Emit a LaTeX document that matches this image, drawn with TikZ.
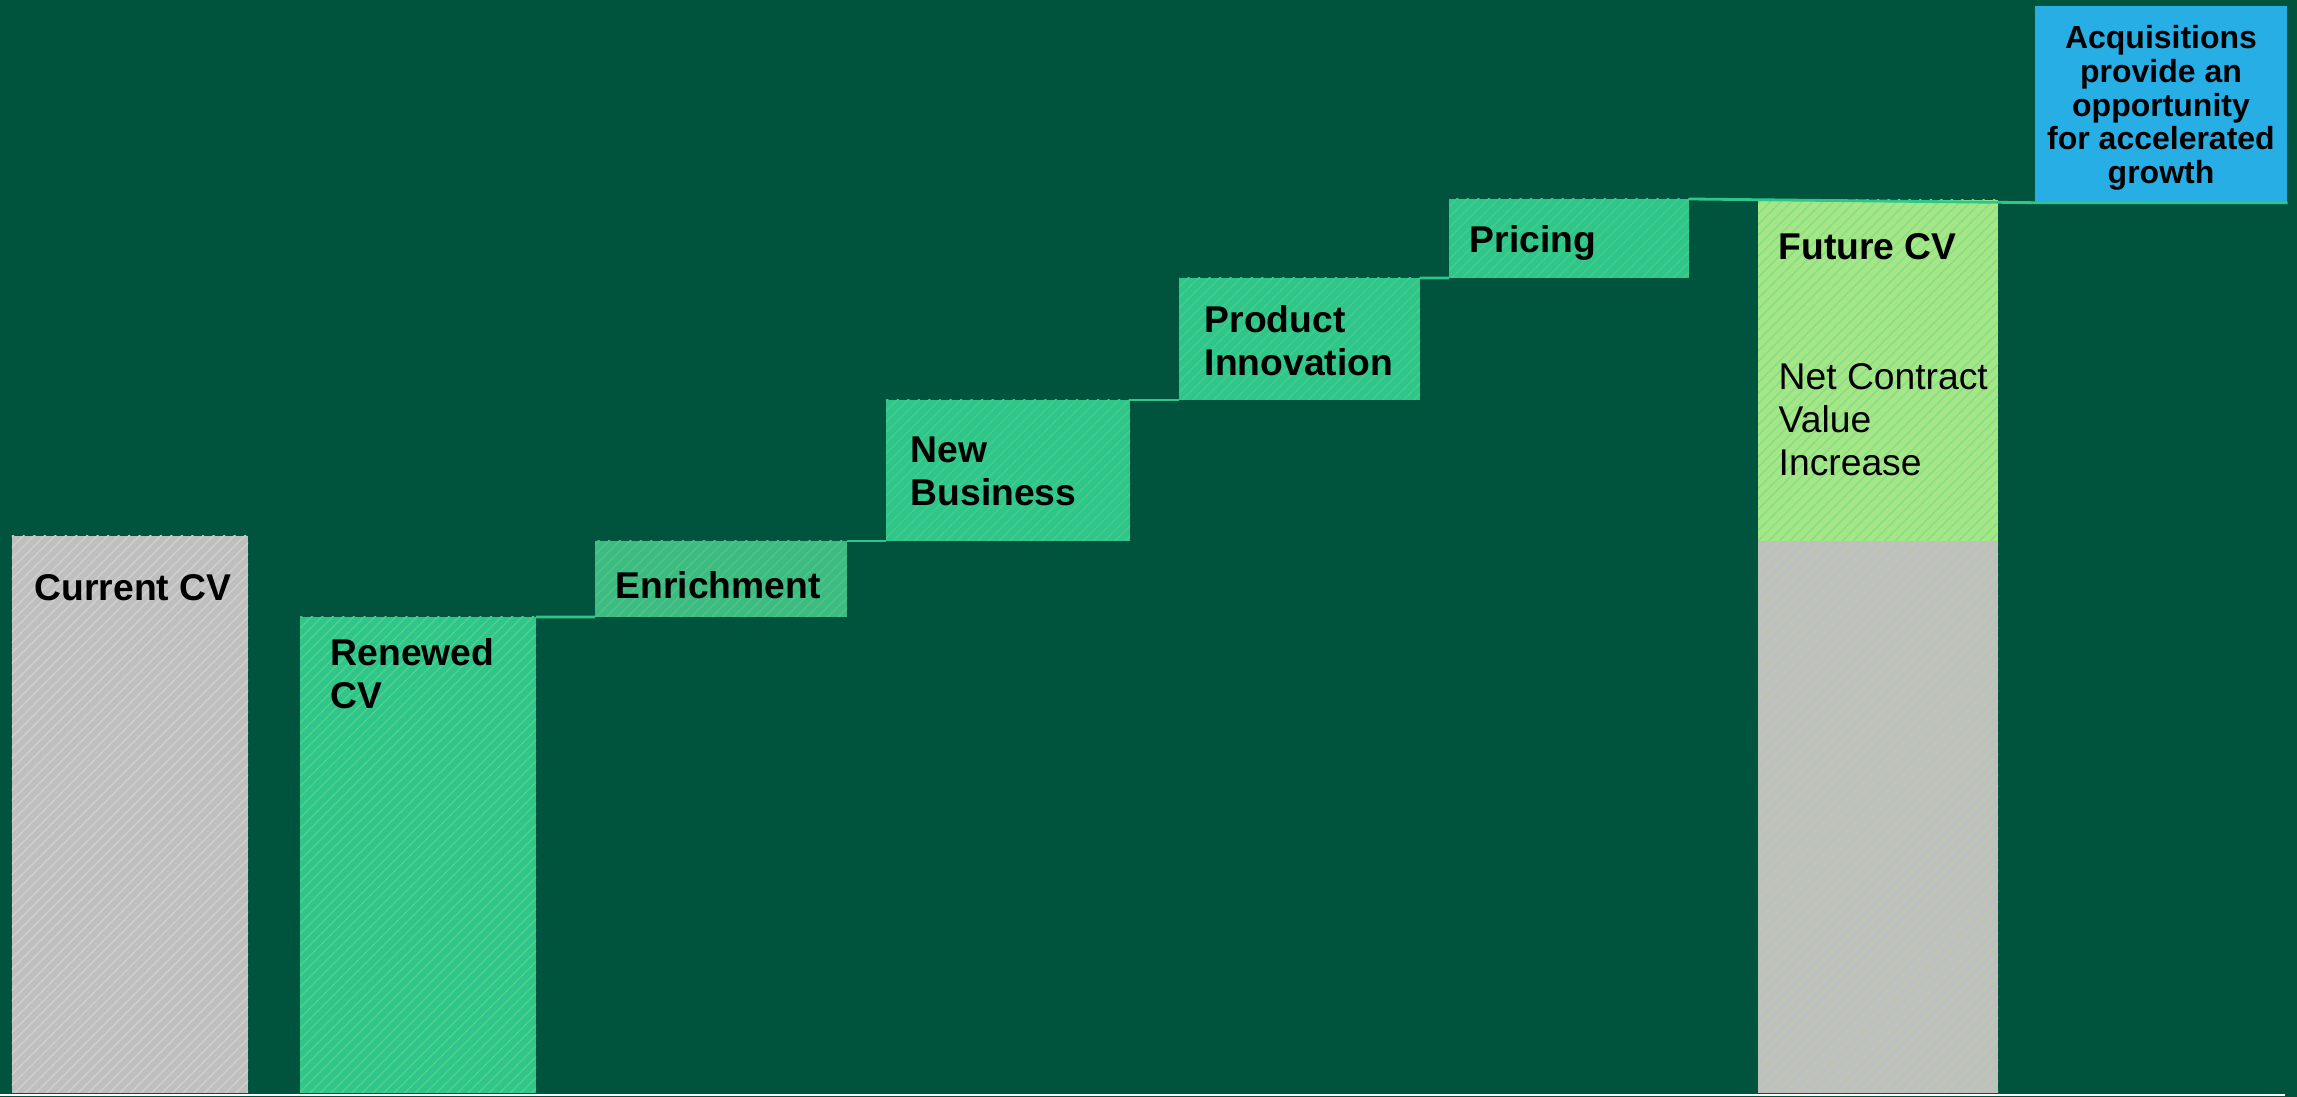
\documentclass[tikz,border=0pt]{standalone}
\usepackage{fontspec}
\setmainfont{Liberation Sans}
\usetikzlibrary{patterns}

\definecolor{bggreen}{HTML}{00543E}
\definecolor{stepgreen}{HTML}{2EC68A}
\definecolor{enrgreen}{HTML}{3CBC83}
\definecolor{lightgreen}{HTML}{A5E686}
\definecolor{bargray}{HTML}{BFBFBF}
\definecolor{acqblue}{HTML}{26AEE5}

\tikzset{
    bar/.style={anchor=south west, inner sep=0pt, outer sep=0pt},
    lbl/.style={anchor=north west, inner sep=0pt, align=left,
        font=\fontsize{10.6}{12.2}\selectfont\bfseries},
    stepline/.style={stepgreen, line width=0.8pt}
}

\begin{document}
\begin{tikzpicture}
    \useasboundingbox (0,0) rectangle (22.97,10.97);
    \fill[bggreen] (0,0) rectangle (22.97,10.97);

    % bars: name / x / y / width / height / fill / hatch
    \foreach \nm/\x/\y/\w/\h/\c/\p in {
        cur/0.12/0.04/2.36/5.57/bargray/bargray!75!white,
        ren/3.00/0.04/2.36/4.76/stepgreen/stepgreen!70!lightgreen,
        enr/5.95/4.80/2.52/0.76/enrgreen/enrgreen!80!lightgreen,
        newb/8.86/5.56/2.44/1.41/stepgreen/stepgreen!80!lightgreen,
        prod/11.79/6.97/2.41/1.22/stepgreen/stepgreen!80!lightgreen,
        pric/14.49/8.19/2.40/0.79/stepgreen/stepgreen!80!lightgreen,
        futb/17.58/0.04/2.40/5.52/bargray/bargray!65!lightgreen,
        fut/17.58/5.56/2.40/3.41/lightgreen/lightgreen!75!stepgreen}
        {
            \node[bar, minimum width=\w cm, minimum height=\h cm, fill=\c,
                postaction={pattern=north east lines, pattern color=\p}] (\nm) at (\x,\y) {};
        }

    \node[fill=acqblue, inner sep=0pt, minimum width=2.52cm, minimum height=1.96cm] (acq) at (21.61,9.93) {};
    \node[align=center, inner sep=0pt, font=\fontsize{9.1}{9.6}\selectfont\bfseries] (acq-txt)
        at ([yshift=-0.04cm]acq.center) {Acquisitions\\provide an\\opportunity\\for accelerated\\growth};

    % labels
    \foreach \nm/\dx/\dy/\txt in {
        cur/0.22/-0.38/{Current CV},
        ren/0.30/-0.21/{Renewed\\CV},
        enr/0.20/-0.30/{Enrichment},
        newb/0.24/-0.36/{New\\Business},
        prod/0.25/-0.27/{Product\\Innovation},
        pric/0.20/-0.26/{Pricing},
        fut/0.20/-0.33/{Future CV}}
        {
            \node[lbl] (\nm-txt) at ([shift={(\dx,\dy)}]\nm.north west) {\txt};
        }
    \node[lbl, font=\fontsize{10.6}{12.2}\selectfont] (net-txt)
        at ([shift={(0.20,-1.63)}]fut.north west) {Net Contract\\Value\\Increase};

    % steps
    \draw[stepline] (ren.north east) -- (enr.south west);
    \draw[stepline] (enr.north east) -- (newb.south west);
    \draw[stepline] (newb.north east) -- (prod.south west);
    \draw[stepline] (prod.north east) -- (pric.south west);
    \draw[stepline] (pric.north east) -- (acq.south west) -- (acq.south east);

    % base line
    \coordinate (base-l) at (0,0.02);
    \coordinate (base-r) at (22.85,0.02);
    \draw[white, line width=0.85pt] (base-l) -- (base-r);
\end{tikzpicture}
\end{document}
